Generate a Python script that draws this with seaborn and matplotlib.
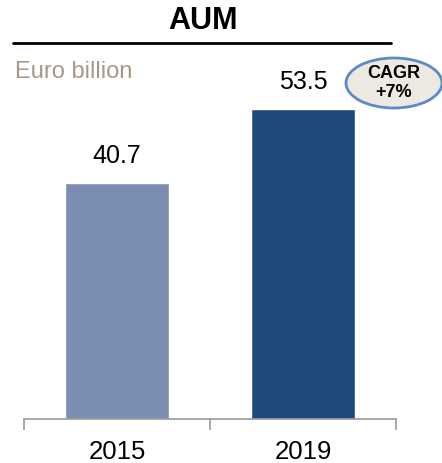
import matplotlib
matplotlib.use('Agg')
import matplotlib.pyplot as plt
from matplotlib.patches import Ellipse
import seaborn as sns
import pandas as pd

# chart data
years = ['2015', '2019']
aum = [40.7, 53.5]
bar_colors = ['#7B8DB1', '#1E4A7B']
title = 'AUM'
unit_label = 'Euro billion'
cagr_text = 'CAGR\n+7%'

sns.set_style('white')
plt.rcParams['font.family'] = ['Liberation Sans', 'DejaVu Sans']
plt.rcParams['text.color'] = 'black'
plt.rcParams['xtick.color'] = '#999999'
plt.rcParams['xtick.labelcolor'] = 'black'

df = pd.DataFrame({'year': years, 'aum': aum})

fig = plt.figure(figsize=(4.42, 4.63), dpi=100)
ax = fig.add_axes([24 / 442, 44 / 463, 372 / 442, 375 / 463])

sns.barplot(data=df, x='year', y='aum', hue='year', palette=bar_colors,
            legend=False, width=0.555, saturation=1, ax=ax)

ax.set_xlim(-0.5, 1.5)
ax.set_ylim(0, 375 / 5.79)

# value labels above bars
for i, v in enumerate(aum):
    ax.text(i, v + 2.7, f'{v:.1f}', ha='center', va='bottom', fontsize=18,
            color='black')

# axis styling
for s in ['top', 'right', 'left']:
    ax.spines[s].set_visible(False)
ax.spines['bottom'].set_color('#999999')
ax.spines['bottom'].set_linewidth(1.2)
ax.set_yticks([])
ax.set_xlabel('')
ax.set_ylabel('')
ax.set_xticks([0, 1])
ax.set_xticklabels(years, fontsize=18.5, color='black')
ax.tick_params(axis='x', which='major', bottom=True, length=0, pad=15)
ax.set_xticks([-0.5, 0.5, 1.5], minor=True)
ax.tick_params(axis='x', which='minor', bottom=True, length=8, width=1.2,
               color='#999999', direction='out')

# header
fig.text(203 / 442, 1 - 21 / 463, title, ha='center', va='center',
         fontsize=22, fontweight='bold', color='black')
fig.add_artist(plt.Line2D([13 / 442, 391 / 442], [1 - 43 / 463, 1 - 43 / 463],
                          color='black', lw=2))
fig.text(15 / 442, 1 - 72 / 463, unit_label, ha='left', va='center',
         fontsize=17, color='#A69888')

# CAGR bubble
ell = Ellipse((394 / 442, 1 - 83 / 463), 96 / 442, 50 / 463,
              transform=fig.transFigure, facecolor='#ECE9E1',
              edgecolor='#5B8AC4', lw=2)
fig.add_artist(ell)
fig.text(394 / 442, 1 - 83 / 463, cagr_text, ha='center', va='center',
         fontsize=13, fontweight='bold', linespacing=1.15, color='black')

fig.savefig('out.png', dpi=100)
